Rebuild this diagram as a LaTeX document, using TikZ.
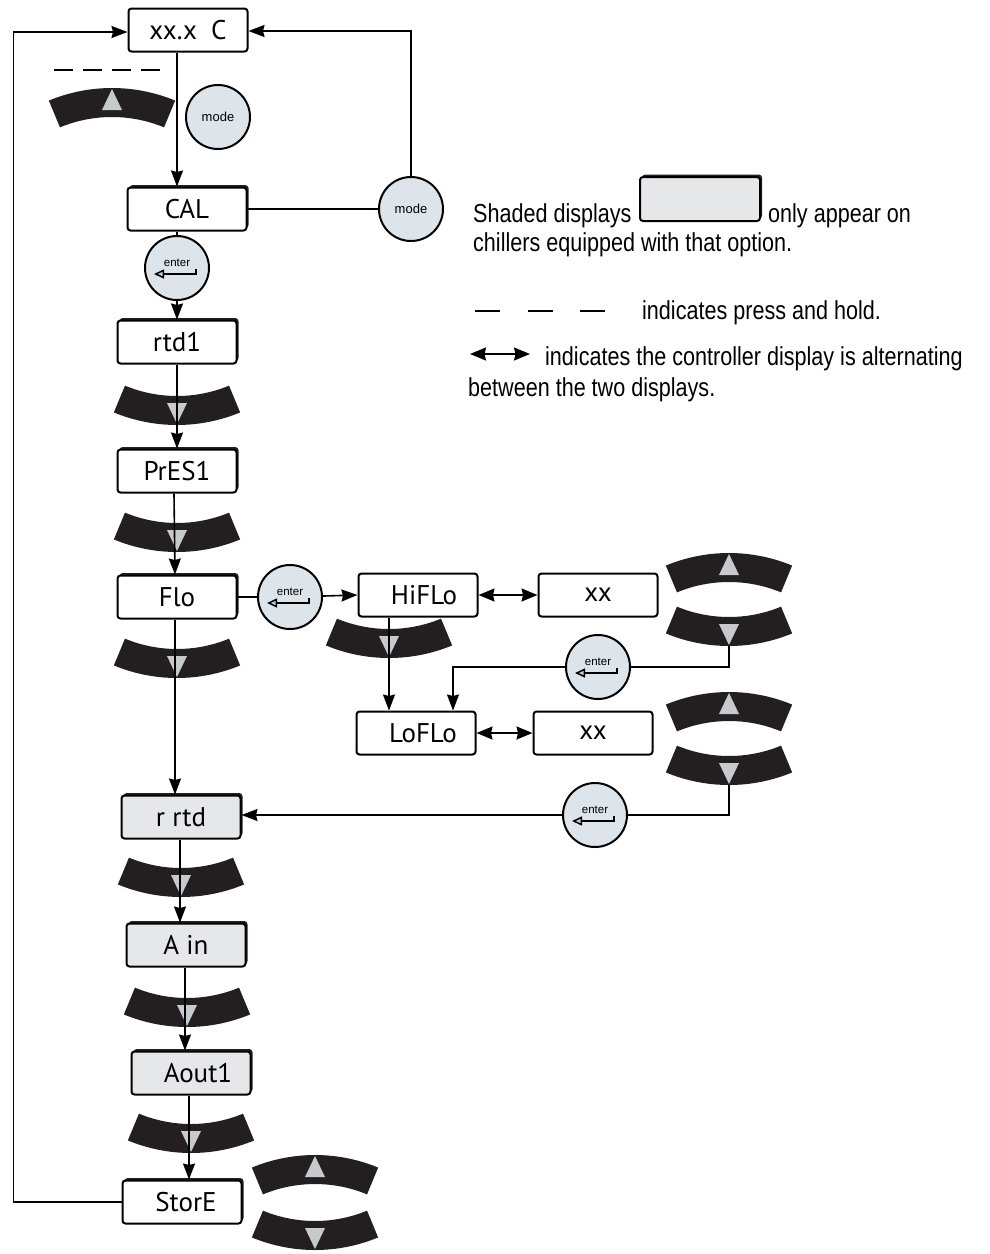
\documentclass[tikz,border=0pt]{standalone}
\usepackage{fontspec}
\setmainfont{Liberation Sans}
\newfontfamily\dispfont{PT Sans}
\newfontfamily\notefont[FakeStretch=0.83]{Liberation Sans}
\usetikzlibrary{arrows.meta,shadows}

\definecolor{btnfill}{HTML}{DDE5EB}
\definecolor{shadefill}{HTML}{E6E7E8}
\definecolor{arcblack}{HTML}{231F20}
\definecolor{arcgray}{HTML}{C8C9CA}

\tikzset{
  disp/.style={draw, line width=2pt, rounded corners=3pt, fill=white,
    minimum width=119pt, minimum height=43pt, inner sep=0pt,
    font=\dispfont\fontsize{27}{27}\selectfont},
  shd/.style={disp, drop shadow={shadow xshift=2pt, shadow yshift=2.4pt, opacity=1, fill=arcblack}},
  opt/.style={shd, fill=shadefill},
  btn/.style={circle, draw, line width=2pt, fill=btnfill, minimum size=64pt, inner sep=0pt,
    font=\fontsize{13}{13}\selectfont},
  flow/.style={line width=1.6pt, -{Stealth[length=16pt,width=12pt,inset=1.5pt]}},
  link/.style={line width=1.6pt},
  alt/.style={line width=1.6pt, {Stealth[length=16pt,width=13pt,inset=1.5pt]}-{Stealth[length=16pt,width=13pt,inset=1.5pt]}},
  note/.style={font=\notefont\fontsize{26}{30}\selectfont, anchor=base west, inner sep=0pt},
  pics/uparc/.style={code={
    \fill[arcblack] (0,165) ++(247.5:165) arc[start angle=247.5, end angle=292.5, radius=165]
      -- ++(112.5:29) arc[start angle=292.5, end angle=247.5, radius=136] -- cycle;
    \fill[arcgray] (0,1) -- (10,22) -- (-10,22) -- cycle;
  }},
  pics/downarc/.style={code={
    \fill[arcblack] (0,-165) ++(67.5:165) arc[start angle=67.5, end angle=112.5, radius=165]
      -- ++(292.5:29) arc[start angle=112.5, end angle=67.5, radius=136] -- cycle;
    \fill[arcgray] (0,-1) -- (10,-22) -- (-10,-22) -- cycle;
  }}
}

% enter key: name, position
\newcommand\enterbtn[2]{%
  \node[btn] (#1) at (#2) {};
  \node[font=\fontsize{11.5}{11.5}\selectfont, inner sep=0pt] (#1t) at ([yshift=5pt]#1.center) {enter};
  \draw[line width=1.5pt, -{Triangle[length=10pt,width=9pt,fill=arcgray]}]
    ([xshift=19pt,yshift=-1pt]#1.center) -- ++(0,5) -- ++(-42,0);
}

\begin{document}
\begin{tikzpicture}[x=1pt, y=-1pt]
  \useasboundingbox (0,0) rectangle (990,1254);

  % arrow keys
  \pic at (112,88) {uparc};
  \pic at (177,425) {downarc};
  \pic at (177,552) {downarc};
  \pic at (177,678) {downarc};
  \pic at (389,658) {downarc};
  \pic at (729,553) {uparc};
  \pic at (729,646) {downarc};
  \pic at (729,692) {uparc};
  \pic at (729,785) {downarc};
  \pic at (181,897) {downarc};
  \pic at (187,1027) {downarc};
  \pic at (191,1153) {downarc};
  \pic at (315,1155) {uparc};
  \pic at (315,1250) {downarc};
  \coordinate (dn2) at (729,646);
  \coordinate (dn3) at (729,785);

  % press and hold
  \draw[line width=1.8pt, dash pattern=on 19pt off 10pt] (54,70) -- (160,70);

  % displays
  \node[disp] (xxc) at (188,30) {xx.x\hspace{14pt}C};
  \node[shd] (cal) at (187,209) {CAL};
  \node[shd] (rtd) at (177,342) {rtd1};
  \node[shd] (pres) at (177,471) {PrES1\hspace{20pt}};
  \node[shd] (flo) at (177,597) {Flo\hspace{14pt}};
  \node[disp] (hiflo) at (418,595) {\hspace{12pt}HiFLo};
  \node[disp] (xxa) at (598,595) {xx};
  \node[disp] (loflo) at (416,733) {\hspace{14pt}LoFLo};
  \node[disp] (xxb) at (593,733) {xx};
  \node[opt] (rrtd) at (181,817) {r rtd};
  \node[opt] (ain) at (186,945) {A in};
  \node[opt] (aout) at (191,1073) {\hspace{14pt}Aout1};
  \node[shd] (store) at (182,1202) {\hspace{8pt}StorE};

  % buttons
  \node[btn] (mode1) at (218,117) {mode};
  \node[btn] (mode2) at (411,209) {mode};
  \enterbtn{ent1}{177,268}
  \enterbtn{ent2}{290,597}
  \enterbtn{ent3}{598,667}
  \enterbtn{ent4}{595,815}

  % main flow
  \draw[flow] ([xshift=-11pt]xxc.south) -- ([xshift=-10pt]cal.north);
  \draw[link] ([xshift=-10pt]cal.south) -- (ent1);
  \draw[flow] (ent1) -- (rtd.north);
  \draw[flow] (rtd) -- (pres.north);
  \draw[flow] ([xshift=-3pt]pres.south) -- ([xshift=-2pt]flo.north);
  \draw[flow] ([xshift=-2pt]flo.south) -- ([xshift=-6pt]rrtd.north);
  \draw[flow] ([xshift=-1pt]rrtd.south) -- ([xshift=-6pt]ain.north);
  \draw[flow] ([xshift=-1pt]ain.south) -- ([xshift=-6pt]aout.north);
  \draw[flow] ([xshift=-2pt]aout.south) -- ([xshift=7pt]store.north);
  \draw[flow] (store.west) -- ++(-108,0) |- ([yshift=-2pt]xxc.west);
  \draw[link] (cal) -- (mode2);
  \draw[flow] (mode2.north) |- ([yshift=-1pt]xxc.east);

  % flow settings
  \draw[link] (flo) -- (ent2);
  \draw[flow] (ent2) -- (hiflo.west);
  \draw[alt] (hiflo) -- (xxa);
  \draw[flow] ([xshift=-29pt]hiflo.south) -- ([xshift=-27pt]loflo.north);
  \draw[link] (dn2) |- (ent3);
  \draw[flow] (ent3) -| ([xshift=37pt]loflo.north);
  \draw[alt] (loflo) -- (xxb);
  \draw[link] (dn3) |- (ent4);
  \draw[flow] (ent4) -- (rrtd.east |- ent4);

  % legend
  \node[opt, minimum width=120pt, minimum height=44pt] (sample) at (700,199) {};
  \node[note] (t1) at (473,222) {Shaded displays};
  \node[note] (t2) at (768,222) {only appear on};
  \node[note] (t3) at (473,251) {chillers equipped with that option.};
  \draw[line width=2pt, dash pattern=on 25pt off 27.5pt] (475,311) -- (605,311);
  \node[note] (t4) at (642,319) {indicates press and hold.};
  \draw[alt] (470,354) -- (530,354);
  \node[note] (t5) at (545,365) {indicates the controller display is alternating};
  \node[note] (t6) at (468,396) {between the two displays.};
\end{tikzpicture}
\end{document}
